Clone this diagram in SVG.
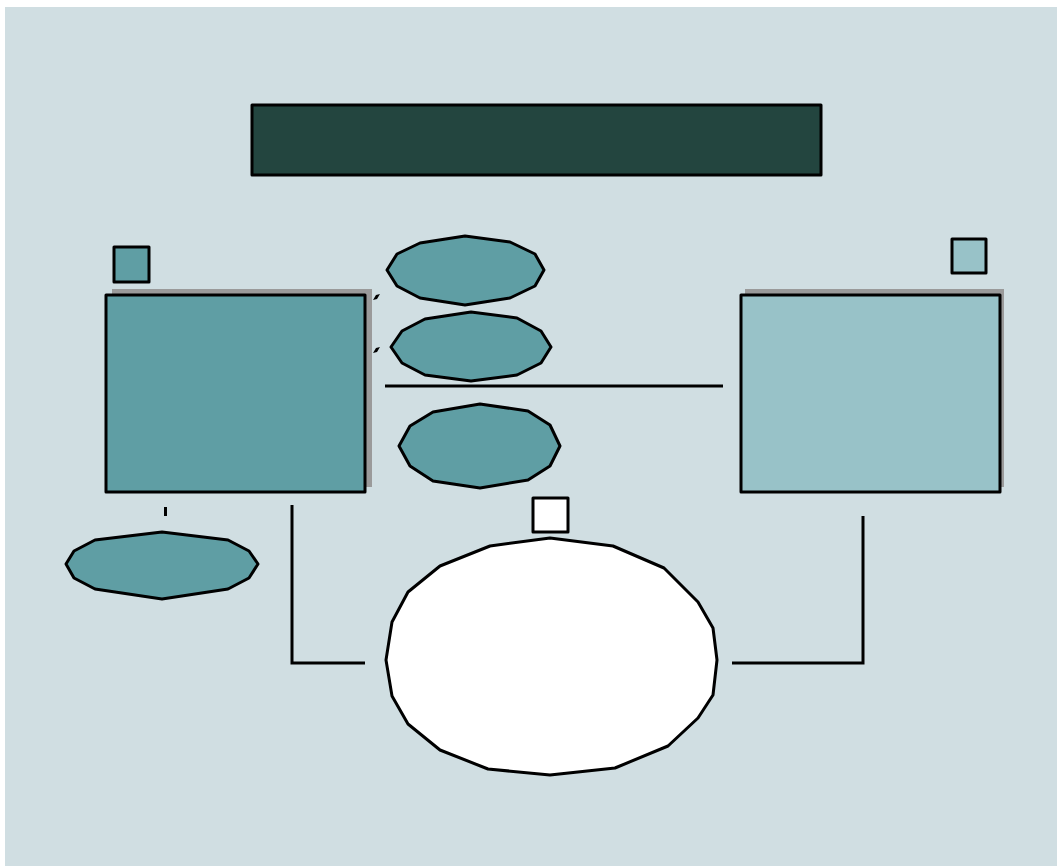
<svg xmlns="http://www.w3.org/2000/svg" width="1057" height="866" viewBox="0 0 1057 866">
  <style>
    .edge { fill: none; stroke: #000; stroke-width: 3; }
    .node { stroke: #000; stroke-width: 3; stroke-linejoin: round; }
    .teal { fill: #5f9ea4; }
    .pale { fill: #98c2c8; }
    .dark { fill: #23453f; }
    .blank { fill: #ffffff; }
    .shade { fill: #9a9a9a; }
    .tip { fill: #000; }
  </style>

  <!-- page -->
  <rect x="0" y="0" width="1057" height="866" fill="#ffffff"/>
  <rect x="5" y="7" width="1052" height="859" fill="#d0dee2"/>

  <!-- connectors -->
  <g id="connectors">
    <line class="edge" x1="385" y1="386" x2="723" y2="386"/>
    <polyline class="edge" points="292,505 292,663 365,663"/>
    <polyline class="edge" points="732,663 863,663 863,516"/>
    <line class="edge" x1="165.5" y1="507" x2="165.5" y2="516"/>
    <polygon class="tip" points="373,300 376,295 380,294 377,299"/>
    <polygon class="tip" points="373,353 376,348 380,347 377,352"/>
  </g>

  <!-- title bar -->
  <g id="title">
    <rect class="node dark" x="252" y="105" width="569" height="70"/>
  </g>

  <!-- left panel -->
  <g id="left-panel">
    <rect class="shade" x="112" y="289" width="260" height="198"/>
    <rect class="node teal" x="106" y="295" width="259" height="197"/>
  </g>
  <g id="left-badge">
    <rect class="node teal" x="114" y="247" width="35" height="35"/>
  </g>

  <!-- right panel -->
  <g id="right-panel">
    <rect class="shade" x="745" y="289" width="259" height="198"/>
    <rect class="node pale" x="741" y="295" width="259" height="197"/>
  </g>
  <g id="right-badge">
    <rect class="node pale" x="952" y="239" width="34" height="34"/>
  </g>

  <!-- centre ovals -->
  <g id="oval-top">
    <polygon class="node teal" points="387,270 397,254 420,243 465,236 510,242 535,254 544,270 535,286 510,298 465,305 420,298 397,286"/>
  </g>
  <g id="oval-middle">
    <polygon class="node teal" points="391,347 402,331 425,319 471,312 517,318 541,331 551,347 541,363 517,375 471,381 425,375 402,363"/>
  </g>
  <g id="oval-lower">
    <polygon class="node teal" points="399,446 410,426 433,412 480,404 528,411 550,425 560,446 550,466 528,480 480,488 433,481 410,466"/>
  </g>

  <!-- left oval -->
  <g id="oval-left">
    <polygon class="node teal" points="66,564 74,551 95,540 162,532 228,540 249,551 258,564 249,578 228,589 162,599 95,589 74,578"/>
  </g>

  <!-- small box above big oval -->
  <g id="hub-badge">
    <rect class="node blank" x="533" y="498" width="35" height="34"/>
  </g>

  <!-- big central oval -->
  <g id="hub">
    <polygon class="node blank" points="386,660 392,622 408,592 440,566 490,546 550,538 613,546 664,568 698,602 713,628 717,660 713,695 698,718 668,746 615,768 550,775 488,769 440,750 408,724 392,696"/>
  </g>
</svg>
